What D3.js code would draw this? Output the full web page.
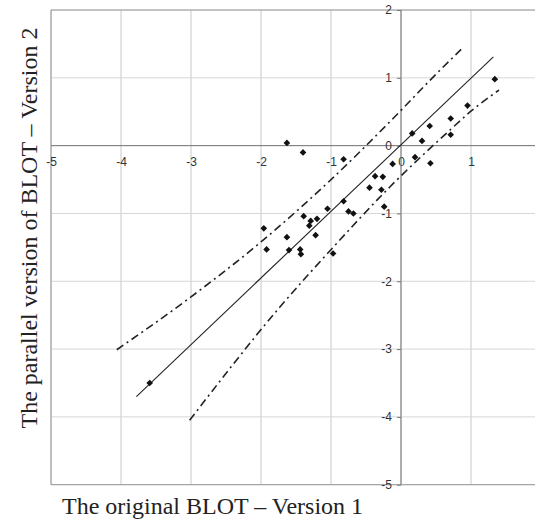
<!doctype html>
<html lang="en">
<head>
    <meta charset="UTF-8">
    <script src="https://d3js.org/d3.v7.min.js"></script>
    <title>BLOT versions</title>
    <style>
        body { margin: 0; background: #fff; }
    </style>
</head>
<body>
<div class="container"></div>
<script>
    // du lieu doc tu hinh
    let xTicks = [-5, -4, -3, -2, -1, 0, 1];
    let yTicks = [-5, -4, -3, -2, -1, 0, 1, 2];

    let pointsX = [-1.63, -1.40, -1.05, -1.39, -1.29, -1.20, -1.31, -1.96, -1.63, -1.22, -1.92, -1.60, -1.44, -1.43, -0.97,
        0.16, -0.82, -0.12, -0.37, -0.26, -0.45, -0.28, -0.24, -0.82, -0.75, -0.68,
        1.34, 0.95, 0.71, 0.41, 0.71, 0.30, 0.20, 0.42, -3.59];
    let pointsY = [0.04, -0.10, -0.93, -1.04, -1.11, -1.08, -1.18, -1.22, -1.35, -1.32, -1.53, -1.54, -1.53, -1.60, -1.59,
        0.18, -0.20, -0.27, -0.45, -0.46, -0.62, -0.65, -0.90, -0.82, -0.97, -1.00,
        0.98, 0.59, 0.40, 0.29, 0.16, 0.07, -0.17, -0.26, -3.50];

    // duong hoi quy
    let fitLine = [[-3.78, -3.70], [1.32, 1.31]];
    // hai duong gioi han (dash-dot)
    let upperBand = [[-4.06, -3.01], [-3.0, -2.23], [-2.0, -1.42], [-1.04, -0.54], [0, 0.52], [0.41, 0.96], [0.88, 1.44]];
    let lowerBand = [[-3.02, -4.05], [-1.73, -2.38], [-0.97, -1.50], [-0.16, -0.61], [0.70, 0.23], [0.99, 0.50], [1.40, 0.82]];

    let W = 535, H = 519;
    let svg = d3.select('.container').append('svg')
        .attr('width', W)
        .attr('height', H);

    let x = d3.scaleLinear().domain([-5, 2]).range([51, 541]);
    let y = d3.scaleLinear().domain([-5, 2]).range([484.7, 10]);

    let plot = svg.append('g');

    // luoi
    plot.selectAll('.gx').data(xTicks.concat([2])).enter().append('line')
        .attr('x1', d => x(d)).attr('x2', d => x(d))
        .attr('y1', y(2)).attr('y2', y(-5))
        .attr('stroke', '#c8c8c8').attr('stroke-width', 1);
    plot.selectAll('.gy').data(yTicks).enter().append('line')
        .attr('x1', x(-5)).attr('x2', x(2))
        .attr('y1', d => y(d)).attr('y2', d => y(d))
        .attr('stroke', '#d6d6d6').attr('stroke-width', 1);

    // khung
    plot.append('line').attr('x1', x(-5)).attr('x2', x(-5)).attr('y1', y(2)).attr('y2', y(-5))
        .attr('stroke', '#9a9a9a');
    plot.append('line').attr('x1', x(-5)).attr('x2', x(2)).attr('y1', y(2)).attr('y2', y(2))
        .attr('stroke', '#9a9a9a');
    plot.append('line').attr('x1', x(-5)).attr('x2', x(2)).attr('y1', y(-5)).attr('y2', y(-5))
        .attr('stroke', '#9a9a9a');

    let fmt = d => String(d);

    // truc x (y = 0)
    let xAxis = d3.axisBottom(x).tickValues(xTicks).tickSize(0).tickPadding(12).tickFormat(fmt);
    let gx = svg.append('g').attr('transform', 'translate(0,' + y(0) + ')').call(xAxis);
    gx.select('.domain').attr('stroke', '#777').attr('d', 'M' + x(-5) + ',0H' + x(2));
    gx.selectAll('text').attr('fill', '#333').style('font-family', 'Liberation Sans, Arial, sans-serif').style('font-size', '12px');

    // truc y (x = 0)
    let yAxis = d3.axisLeft(y).tickValues(yTicks).tickSize(4).tickPadding(5).tickFormat(fmt);
    let gy = svg.append('g').attr('transform', 'translate(' + x(0) + ',0)').call(yAxis);
    gy.select('.domain').attr('stroke', '#777').attr('d', 'M0,' + y(2) + 'V' + y(-5));
    gy.selectAll('.tick line').attr('stroke', '#777');
    gy.selectAll('text').attr('fill', '#333').style('font-family', 'Liberation Sans, Arial, sans-serif').style('font-size', '12px');

    let line = d3.line().x(d => x(d[0])).y(d => y(d[1]));
    let curve = d3.line().x(d => x(d[0])).y(d => y(d[1])).curve(d3.curveMonotoneX);

    svg.append('path').attr('d', line(fitLine))
        .attr('fill', 'none').attr('stroke', '#222').attr('stroke-width', 1.1);

    [upperBand, lowerBand].forEach(function (band) {
        svg.append('path').attr('d', curve(band))
            .attr('fill', 'none').attr('stroke', '#222').attr('stroke-width', 1.6)
            .attr('stroke-dasharray', '8,4,2,4');
    });

    // diem
    let pts = pointsX.map((v, i) => [v, pointsY[i]]);
    let diamond = d3.symbol().type(d3.symbolSquare).size(22);
    svg.selectAll('.pt').data(pts).enter().append('path')
        .attr('d', diamond)
        .attr('transform', d => 'translate(' + x(d[0]) + ',' + y(d[1]) + ') rotate(45)')
        .attr('fill', '#111');

    // tieu de
    svg.append('text')
        .attr('transform', 'translate(37,228) rotate(-90)')
        .attr('text-anchor', 'middle')
        .attr('fill', '#222')
        .style('font-family', 'Liberation Serif, Times New Roman, serif')
        .style('font-size', '24px')
        .text('The parallel version of BLOT – Version 2');

    svg.append('text')
        .attr('x', 62).attr('y', 514)
        .attr('fill', '#222')
        .style('font-family', 'Liberation Serif, Times New Roman, serif')
        .style('font-size', '24px')
        .text('The original BLOT – Version 1');
</script>
</body>
</html>
